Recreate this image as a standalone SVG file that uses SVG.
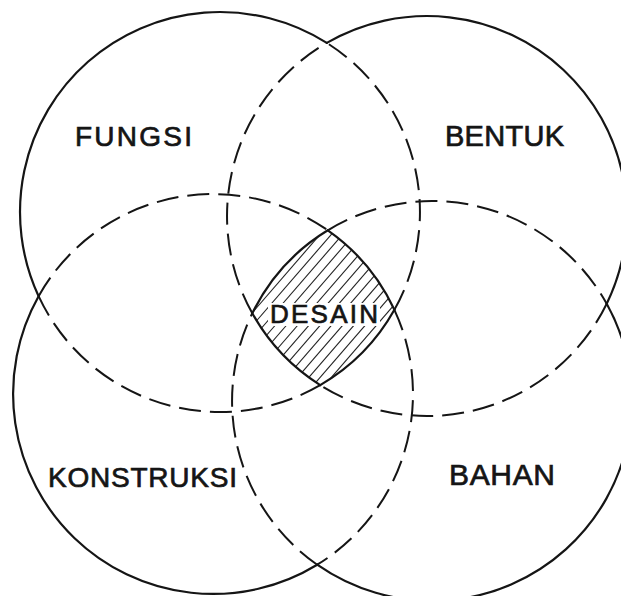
<svg xmlns="http://www.w3.org/2000/svg" width="621" height="596" viewBox="0 0 621 596">
<style>
.solid{fill:none;stroke:#151515;stroke-width:2.2;stroke-linecap:round}
.dash{fill:none;stroke:#151515;stroke-width:2;stroke-dasharray:22 9}
.hatch{stroke:#222;stroke-width:1.1}
.lbl{font-family:"Liberation Sans","DejaVu Sans",sans-serif;fill:#151515;stroke:#151515;stroke-width:0.7}
</style>
<defs>
<clipPath id="lens">
<path d="M252.3,313.3 A200,200 0 0 1 327.8,230.3 A200,200 0 0 1 394.4,309.8 A200,200 0 0 1 320.2,385.1 A200,200 0 0 1 252.3,313.3 Z"/>
</clipPath>
</defs>
<rect width="621" height="596" fill="#fff"/>
<g id="desain">
<g clip-path="url(#lens)" class="hatch">
<line x1="220" y1="350" x2="440" y2="96"/>
<line x1="220" y1="363" x2="440" y2="109"/>
<line x1="220" y1="376" x2="440" y2="122"/>
<line x1="220" y1="389" x2="440" y2="135"/>
<line x1="220" y1="402" x2="440" y2="148"/>
<line x1="220" y1="415" x2="440" y2="161"/>
<line x1="220" y1="428" x2="440" y2="174"/>
<line x1="220" y1="441" x2="440" y2="187"/>
<line x1="220" y1="454" x2="440" y2="200"/>
<line x1="220" y1="467" x2="440" y2="213"/>
<line x1="220" y1="480" x2="440" y2="226"/>
<line x1="220" y1="493" x2="440" y2="239"/>
<line x1="220" y1="506" x2="440" y2="252"/>
</g>
<rect x="268" y="303" width="112" height="23" fill="#fff"/>
</g>
<g id="fungsi">
<path class="solid" d="M326.8,42.9 A200,200 0 0 0 38.6,296.2"/>
<path class="dash" d="M38.6,296.2 A200,200 0 0 0 320.2,385.1"/>
<path class="solid" d="M320.2,385.1 A200,200 0 0 0 394.4,309.8"/>
<path class="dash" d="M394.4,309.8 A200,200 0 0 0 326.8,42.9"/>
<text class="lbl" x="75" y="146" font-size="28" textLength="117" lengthAdjust="spacing">FUNGSI</text>
</g>
<g id="bentuk">
<path class="solid" d="M326.8,42.9 A200,200 0 0 1 606.7,303.7"/>
<path class="dash" d="M606.7,303.7 A200,200 0 0 1 320.2,385.1"/>
<path class="solid" d="M320.2,385.1 A200,200 0 0 1 252.3,313.3"/>
<path class="dash" d="M252.3,313.3 A200,200 0 0 1 326.8,42.9"/>
<text class="lbl" x="445" y="146" font-size="29" textLength="119" lengthAdjust="spacing">BENTUK</text>
</g>
<g id="konstruksi">
<path class="dash" d="M38.6,296.2 A200,200 0 0 1 327.8,230.3"/>
<path class="solid" d="M327.8,230.3 A200,200 0 0 1 394.4,309.8"/>
<path class="dash" d="M394.4,309.8 A200,200 0 0 1 317.2,564.7"/>
<path class="solid" d="M317.2,564.7 A200,200 0 0 1 38.6,296.2"/>
<text class="lbl" x="48" y="487" font-size="28" textLength="189" lengthAdjust="spacing">KONSTRUKSI</text>
</g>
<g id="bahan">
<path class="solid" d="M252.3,313.3 A200,200 0 0 1 327.8,230.3"/>
<path class="dash" d="M327.8,230.3 A200,200 0 0 1 606.7,303.7"/>
<path class="solid" d="M606.7,303.7 A200,200 0 0 1 317.2,564.7"/>
<path class="dash" d="M317.2,564.7 A200,200 0 0 1 252.3,313.3"/>
<text class="lbl" x="449" y="485" font-size="30" textLength="106" lengthAdjust="spacing">BAHAN</text>
</g>
<g id="desain-label">
<text class="lbl" x="270" y="323" font-size="26" textLength="108" lengthAdjust="spacing">DESAIN</text>
</g>
<g id="connectors"/>
</svg>
